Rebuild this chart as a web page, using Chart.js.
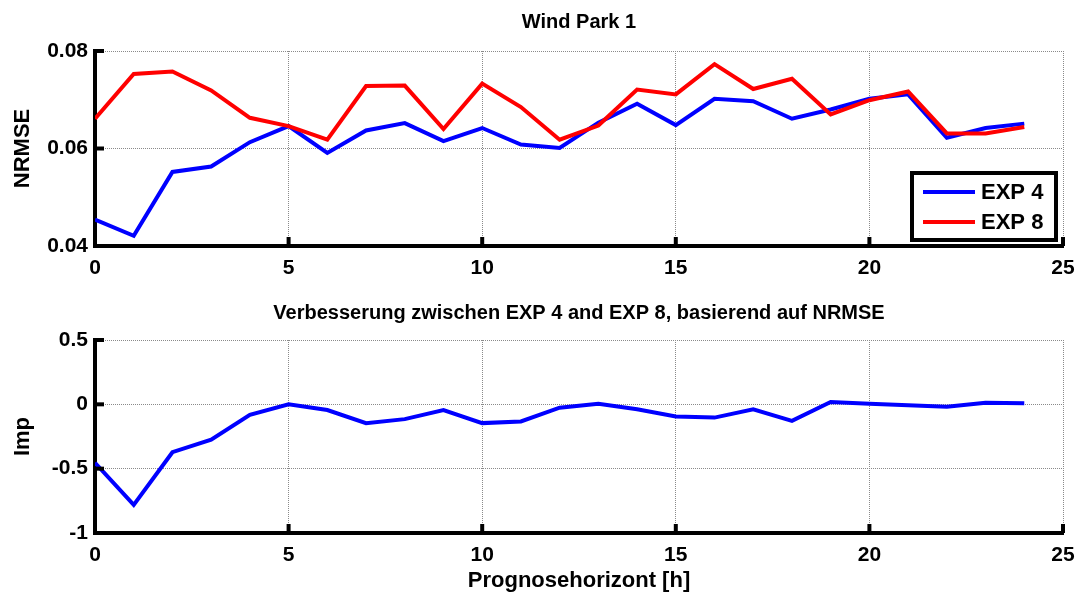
<!DOCTYPE html>
<html>
<head>
<meta charset="utf-8">
<script src="https://cdn.jsdelivr.net/npm/chart.js@4"></script>
<style>
  html, body { margin: 0; padding: 0; background: #fff; }
  #wrap { position: relative; width: 1078px; height: 594px; }
  .box { position: absolute; left: 0; width: 1078px; }
</style>
</head>
<body>
<div id="wrap">
  <div class="box" style="top:0;height:300px"><canvas id="nrmse"></canvas></div>
  <div class="box" style="top:300px;height:294px"><canvas id="imp"></canvas></div>
</div>
<script>
// Prognosehorizont in Stunden
const hours = [0, 1, 2, 3, 4, 5, 6, 7, 8, 9, 10, 11, 12, 13, 14, 15, 16, 17, 18, 19, 20, 21, 22, 23, 24];

// NRMSE Wind Park 1
const exp4 = [0.0454, 0.0421, 0.0552, 0.0563, 0.0613, 0.0646, 0.0591, 0.0637, 0.0652, 0.0615, 0.0642, 0.0608, 0.0601,
              0.0653, 0.0692, 0.0648, 0.0702, 0.0697, 0.0661, 0.0680, 0.0702, 0.0711, 0.0622, 0.0642, 0.0651];
const exp8 = [0.0661, 0.0753, 0.0758, 0.0719, 0.0663, 0.0646, 0.0618, 0.0728, 0.0729, 0.0640, 0.0733, 0.0685, 0.0618,
              0.0647, 0.0721, 0.0711, 0.0773, 0.0722, 0.0743, 0.0670, 0.0699, 0.0717, 0.0631, 0.0631, 0.0644];

// Verbesserung (Imp)
const imp = [-0.454, -0.782, -0.372, -0.274, -0.082, 0.0, -0.044, -0.146, -0.115, -0.044, -0.146, -0.133, -0.026,
             0.005, -0.038, -0.095, -0.103, -0.038, -0.128, 0.018, 0.005, -0.008, -0.018, 0.013, 0.008];

// Achsenbeschriftungen
const hourTicks = [0, 5, 10, 15, 20, 25];
const nrmseTicks = [0.04, 0.06, 0.08];
const impTicks = [-1, -0.5, 0, 0.5];

const FONT = "'Liberation Sans', Arial, sans-serif";
const toPoints = ys => hours.map((h, i) => ({ x: h, y: ys[i] }));

// MATLAB-artige Ticks nach innen + Legende mit Rahmen
const matlabDeko = {
    id: 'matlabDeko',
    afterDraw(chart, args, opts) {
        const { ctx, chartArea: a, scales: { x, y } } = chart;
        ctx.save();
        ctx.strokeStyle = '#000';
        ctx.lineWidth = 4;
        x.ticks.forEach(t => {
            const px = x.getPixelForValue(t.value);
            ctx.beginPath(); ctx.moveTo(px, a.bottom); ctx.lineTo(px, a.bottom - 9); ctx.stroke();
        });
        y.ticks.forEach(t => {
            const py = y.getPixelForValue(t.value);
            ctx.beginPath(); ctx.moveTo(a.left, py); ctx.lineTo(a.left + 9, py); ctx.stroke();
        });
        if (opts.legend) {
            const L = opts.legend;
            ctx.fillStyle = '#fff';
            ctx.fillRect(L.x, L.y, L.w, L.h);
            ctx.strokeRect(L.x, L.y, L.w, L.h);
            ctx.font = 'bold 22px ' + FONT;
            ctx.textBaseline = 'middle';
            chart.data.datasets.forEach((ds, i) => {
                const yy = L.y + 19 + i * 30;
                ctx.strokeStyle = ds.borderColor;
                ctx.lineWidth = 4;
                ctx.beginPath(); ctx.moveTo(L.x + 11, yy); ctx.lineTo(L.x + 63, yy); ctx.stroke();
                ctx.fillStyle = '#000';
                ctx.fillText(ds.label, L.x + 69, yy + 1);
            });
        }
        ctx.restore();
    }
};

function achsen(yTicks, yMin, yMax, yTitle, xTitle, xHeight, fmt) {
    const grid = { color: '#8a8a8a', lineWidth: 1, drawTicks: false };
    const border = { color: '#000', width: 4, dash: [1, 1] };
    return {
        x: {
            type: 'linear', min: 0, max: 25,
            afterBuildTicks: s => { s.ticks = hourTicks.map(v => ({ value: v })); },
            afterFit: s => { s.height = xHeight; s.paddingLeft = 0; s.paddingRight = 0; },
            grid: grid, border: border,
            ticks: { color: '#000', padding: 10, font: { family: FONT, size: 21, weight: 'bold' }, maxRotation: 0 },
            title: { display: !!xTitle, text: xTitle, color: '#000', padding: { top: 0, bottom: 0 },
                     font: { family: FONT, size: 22, weight: 'bold' } }
        },
        y: {
            min: yMin, max: yMax,
            afterBuildTicks: s => { s.ticks = yTicks.map(v => ({ value: v })); },
            afterFit: s => { s.width = 95; },
            grid: grid, border: border,
            ticks: { color: '#000', padding: 7, font: { family: FONT, size: 21, weight: 'bold' }, callback: fmt },
            title: { display: true, text: yTitle, color: '#000', padding: 10,
                     font: { family: FONT, size: 22, weight: 'bold' } }
        }
    };
}

new Chart(document.getElementById('nrmse'), {
    type: 'line',
    data: {
        datasets: [
            { label: 'EXP 4', data: toPoints(exp4), borderColor: '#0000ff', borderWidth: 4, pointRadius: 0, order: 2 },
            { label: 'EXP 8', data: toPoints(exp8), borderColor: '#ff0000', borderWidth: 4, pointRadius: 0, order: 1 }
        ]
    },
    options: {
        responsive: true, maintainAspectRatio: false, animation: false,
        layout: { padding: { left: 0, right: 15, top: 0, bottom: 0 } },
        plugins: {
            legend: { display: false },
            tooltip: { enabled: false },
            title: { display: true, text: 'Wind Park 1', color: '#000', fullSize: false,
                     padding: { top: 10, bottom: 17 }, font: { family: FONT, size: 20, weight: 'bold' } },
            matlabDeko: { legend: { x: 912, y: 173, w: 144, h: 67 } }
        },
        scales: achsen(nrmseTicks, 0.04, 0.08, 'NRMSE', '', 54, v => v.toFixed(2))
    },
    plugins: [matlabDeko]
});

new Chart(document.getElementById('imp'), {
    type: 'line',
    data: {
        datasets: [
            { label: 'Imp', data: toPoints(imp), borderColor: '#0000ff', borderWidth: 4, pointRadius: 0 }
        ]
    },
    options: {
        responsive: true, maintainAspectRatio: false, animation: false,
        layout: { padding: { left: 0, right: 15, top: 0, bottom: 0 } },
        plugins: {
            legend: { display: false },
            tooltip: { enabled: false },
            title: { display: true, text: 'Verbesserung zwischen EXP 4 and EXP 8, basierend auf NRMSE', color: '#000',
                     fullSize: false, padding: { top: 1, bottom: 15 }, font: { family: FONT, size: 20, weight: 'bold' } },
            matlabDeko: {}
        },
        scales: achsen(impTicks, -1, 0.5, 'Imp', 'Prognosehorizont [h]', 61, v => String(v))
    },
    plugins: [matlabDeko]
});
</script>
</body>
</html>
